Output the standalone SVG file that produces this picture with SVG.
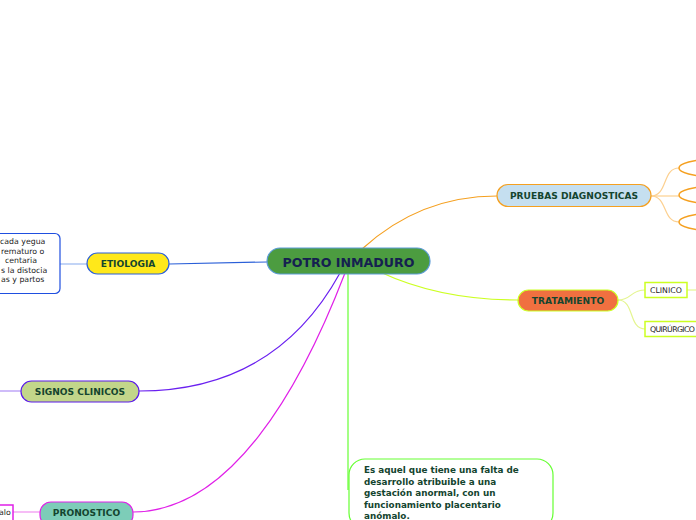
<svg xmlns="http://www.w3.org/2000/svg" width="696" height="520" viewBox="0 0 696 520">
<style>
.t{font-family:"DejaVu Sans",Verdana,sans-serif;font-weight:bold;fill:#14452f;text-anchor:middle}
.s{font-family:"DejaVu Sans",Verdana,sans-serif;font-size:7.8px;fill:#222}
.c{fill:none;stroke-width:1.2}
</style>
<rect width="696" height="520" fill="#fff"/>
<g id="connectors">
<path class="c" d="M362,249 Q420,196 497,196" stroke="#f5a020"/>
<path class="c" d="M651,196 C668,196 662,168 679,168" stroke="#fcd090"/>
<path class="c" d="M651,196 L679,196" stroke="#fcd090"/>
<path class="c" d="M651,196 C668,196 662,222 679,222" stroke="#fcd090"/>
<path class="c" d="M380,272 Q440,300 518,300" stroke="#ccff22"/>
<path class="c" d="M618,300 C632,300 630,290 645,290" stroke="#e4f590"/>
<path class="c" d="M618,300 C635,300 628,329 645,329" stroke="#e4f590"/>
<path class="c" d="M687,290 L696,290" stroke="#e4f590"/>
<path class="c" d="M267,262 L169,264" stroke="#2a5fd8"/>
<path class="c" d="M87,264 L60,264" stroke="#9ab8f0"/>
<path class="c" d="M340,273 Q275,391 139,391" stroke="#6a20f0"/>
<path class="c" d="M21,391 L0,391" stroke="#b090f5"/>
<path class="c" d="M345,273 C300,390 230,512 133,512" stroke="#e020e8"/>
<path class="c" d="M40,512 L13,512" stroke="#f090f0"/>
<path class="c" d="M348,274 L348,490" stroke="#66ff33"/>
</g>
<g id="center">
<rect x="267" y="248" width="163" height="26" rx="13" fill="#4c9c40" stroke="#5b9bd5" stroke-width="1.2"/>
<text class="t" x="348.5" y="266.5" font-size="12.6" style="fill:#152050">POTRO INMADURO</text>
</g>
<g id="pruebas">
<rect x="497" y="184.5" width="154" height="22" rx="11" fill="#c5dff0" stroke="#f5a020" stroke-width="1.2"/>
<text class="t" x="574" y="199" font-size="9.1">PRUEBAS DIAGNOSTICAS</text>
</g>
<g id="prueba1"><ellipse cx="712" cy="168" rx="33" ry="8.5" fill="#fff" stroke="#f5a020" stroke-width="1.5"/></g>
<g id="prueba2"><ellipse cx="712" cy="195" rx="33" ry="8.5" fill="#fff" stroke="#f5a020" stroke-width="1.5"/></g>
<g id="prueba3"><ellipse cx="712" cy="222" rx="33" ry="8.5" fill="#fff" stroke="#f5a020" stroke-width="1.5"/></g>
<g id="tratamiento">
<rect x="518" y="290" width="100" height="21" rx="10.5" fill="#f07040" stroke="#ccff22" stroke-width="1.2"/>
<text class="t" x="568" y="304" font-size="9.1">TRATAMIENTO</text>
</g>
<g id="clinico">
<rect x="645" y="282.5" width="42" height="15" fill="#fff" stroke="#ccff22" stroke-width="1.5"/>
<text class="s" x="650" y="293">CLINICO</text>
</g>
<g id="quirurgico">
<rect x="645" y="321.5" width="60" height="15" fill="#fff" stroke="#ccff22" stroke-width="1.5"/>
<text class="s" x="650" y="332" textLength="45">QUIRÚRGICO</text>
</g>
<g id="etiologia">
<rect x="87" y="253" width="82" height="21" rx="10.5" fill="#ffe81a" stroke="#2a5fd8" stroke-width="1.2"/>
<text class="t" x="128" y="267" font-size="9.1">ETIOLOGIA</text>
</g>
<g id="etiologia-text">
<rect x="-40" y="233.5" width="100" height="60" rx="5" fill="#fff" stroke="#1f4fe0" stroke-width="1.2"/>
<text class="s" x="0" y="244">cada yegua</text>
<text class="s" x="1" y="253.5">rematuro o</text>
<text class="s" x="5" y="263">centaria</text>
<text class="s" x="1" y="272.5">s la distocia</text>
<text class="s" x="1" y="282">as y partos</text>
</g>
<g id="signos">
<rect x="21" y="381" width="118" height="21" rx="10.5" fill="#c2d68a" stroke="#5a1ae8" stroke-width="1.2"/>
<text class="t" x="80" y="395" font-size="9.1">SIGNOS CLINICOS</text>
</g>
<g id="pronostico">
<rect x="40" y="502" width="93" height="24" rx="11" fill="#7dcdb8" stroke="#e020e8" stroke-width="1.2"/>
<text class="t" x="86.5" y="516" font-size="9.1">PRONOSTICO</text>
</g>
<g id="pronostico-text">
<rect x="-30" y="505" width="43" height="20" fill="#fff" stroke="#e020e8" stroke-width="1.5"/>
<text class="s" x="-1" y="515">alo</text>
</g>
<g id="definicion">
<rect x="349" y="459" width="204" height="70" rx="16" fill="#fff" stroke="#66ff33" stroke-width="1.2"/>
<text class="t" font-size="8.8" style="text-anchor:start">
<tspan x="364" y="473">Es aquel que tiene una falta de</tspan>
<tspan x="364" y="484.5">desarrollo atribuible a una</tspan>
<tspan x="364" y="496">gestación anormal, con un</tspan>
<tspan x="364" y="507.5">funcionamiento placentario</tspan>
<tspan x="364" y="519">anómalo.</tspan>
</text>
</g>
</svg>
